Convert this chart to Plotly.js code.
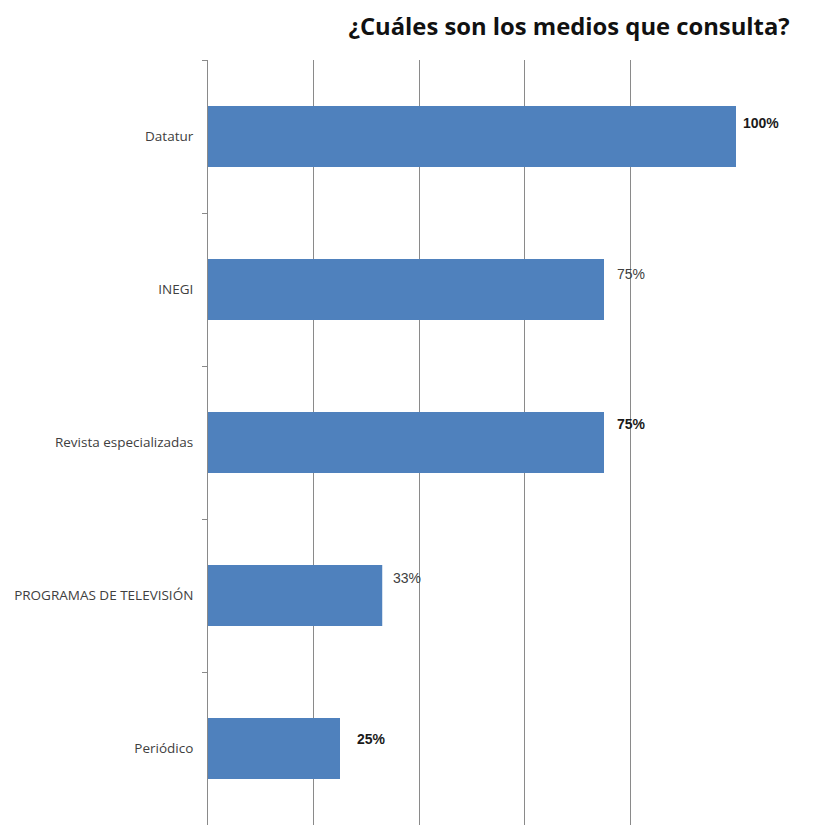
<!DOCTYPE html>
<html>
<head>
<meta charset="utf-8">
<script src="https://cdn.plot.ly/plotly-3.0.1.min.js"></script>
<style>html,body{margin:0;padding:0;background:#fff;}#chart{width:833px;height:825px;}</style>
</head>
<body>
<div id="chart"></div>
<script>
const categories = ["Datatur", "INEGI", "Revista especializadas", "PROGRAMAS DE TELEVISIÓN", "Periódico"];
const values = [100, 75, 75, 33, 25];
const labels = ["100%", "75%", "75%", "33%", "25%"];
const xTicks = [0, 20, 40, 60, 80, 100];

// label styling (offsets in px, weight)
const labelStyle = [
  {dx: 5, dy: 14, bold: true},
  {dx: 11, dy: 16, bold: false},
  {dx: 11, dy: 19, bold: true},
  {dx: 9, dy: 18, bold: false},
  {dx: 15, dy: 10, bold: true}
];

const annotations = categories.map((c, i) => ({
  x: values[i], y: c, xref: 'x', yref: 'y',
  text: labelStyle[i].bold ? '<b>' + labels[i] + '</b>' : labels[i],
  showarrow: false, xanchor: 'left', yanchor: 'middle',
  xshift: labelStyle[i].dx, yshift: labelStyle[i].dy,
  font: {family: 'Liberation Sans, Arial, sans-serif', size: 14, color: labelStyle[i].bold ? '#1a1a1a' : '#404040'}
}));

const trace = {
  type: 'bar', orientation: 'h',
  x: values, y: categories,
  marker: {color: '#4f81bd'},
  width: 0.4,
  hoverinfo: 'none'
};

const layout = {
  width: 833, height: 825,
  margin: {l: 208, r: 97, t: 60, b: 0},
  paper_bgcolor: '#ffffff', plot_bgcolor: '#ffffff',
  showlegend: false,
  title: {
    text: '<b>¿Cuáles son los medios que consulta?</b>',
    font: {family: 'Open Sans, sans-serif', size: 23.8, color: '#111111'},
    x: 0.948, xanchor: 'right', xref: 'container',
    y: 0.968, yanchor: 'middle', yref: 'container'
  },
  xaxis: {
    range: [0, 100], tickvals: xTicks, showticklabels: false,
    showgrid: true, gridcolor: '#8a8a8a', gridwidth: 1,
    zeroline: false, showline: false, ticks: '', fixedrange: true
  },
  yaxis: {
    type: 'category', categoryorder: 'array', categoryarray: categories,
    autorange: 'reversed',
    showline: true, linecolor: '#8a8a8a', linewidth: 1,
    ticks: 'outside', tickson: 'boundaries', ticklen: 5, tickcolor: '#8a8a8a',
    showgrid: false, zeroline: false,
    tickfont: {family: 'Open Sans, sans-serif', size: 13.5, color: '#404040'},
    ticklabelstandoff: 11
  },
  annotations: annotations
};

Plotly.newPlot('chart', [trace], layout, {displayModeBar: false, staticPlot: true});
</script>
</body>
</html>
